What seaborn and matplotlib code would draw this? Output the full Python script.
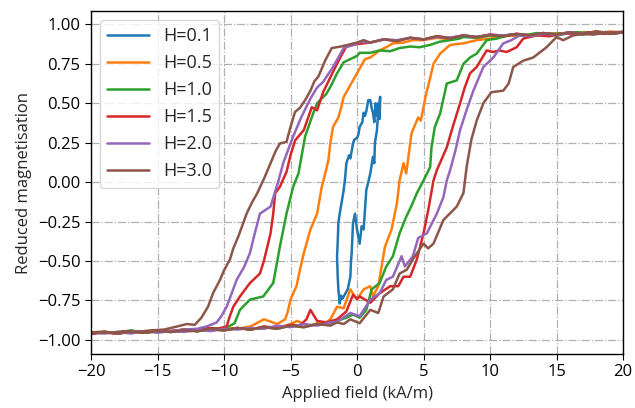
import numpy as np
import pandas as pd
import matplotlib
matplotlib.use("Agg")
import matplotlib.pyplot as plt
import seaborn as sns

labels = ["H=0.1", "H=0.5", "H=1.0", "H=1.5", "H=2.0", "H=3.0"]

# (field kA/m, reduced magnetisation)
loop_01 = [(1.73, .54), (1.65, .45), (1.6, .5), (1.5, .42), (1.4, .5), (1.3, .38), (1.2, .44), (1.1, .47),
           (1.0, .52), (0.85, .52), (0.7, .45), (0.6, .42), (0.5, .44), (0.4, .38), (0.2, .35), (0.1, .3),
           (0.0, .28), (-0.2, .27), (-0.3, .245), (-0.5, .15), (-0.6, .17), (-0.8, .12), (-0.9, .02),
           (-1.0, -.05), (-1.2, -.15), (-1.3, -.2), (-1.4, -.26), (-1.45, -.38), (-1.5, -.47),
           (-1.45, -.6), (-1.4, -.68), (-1.3, -.77), (-1.2, -.72), (-1.1, -.74), (-1.0, -.725),
           (-0.7, -.68), (-0.5, -.6), (-0.45, -.5), (-0.4, -.45), (-0.3, -.26), (-0.15, -.2), (0.0, -.3),
           (0.2, -.39), (0.35, -.28), (0.5, -.3), (0.7, -.05), (0.85, .0), (1.0, .055), (1.2, .16),
           (1.3, .12), (1.35, .25), (1.5, .33), (1.6, .455), (1.7, .4), (1.75, .54)]

down_05 = [(20, .95), (19, .945), (18, .955), (17, .94), (16, .95), (15, .935), (14, .945), (13, .93),
           (12, .935), (11, .925), (10, .93), (9, .915), (8, .925), (7, .905), (6, .915), (5, .9),
           (4.2, .9), (3.5, .885), (2.7, .88), (2.3, .86), (1.7, .835), (1.0, .79), (0.6, .78),
           (0.2, .72), (-0.3, .645), (-1.0, .54), (-1.2, .47), (-1.4, .41), (-1.8, .35), (-2.0, .25),
           (-2.15, .14), (-2.4, .05), (-2.65, -.03), (-3.0, -.2), (-3.5, -.3), (-4.0, -.45),
           (-4.3, -.56), (-4.55, -.66), (-5.0, -.745), (-5.2, -.82), (-5.4, -.87), (-6, -.9),
           (-7, -.87), (-8, -.915), (-9, -.93), (-10, -.925), (-11, -.935), (-12, -.94), (-13, -.935),
           (-14, -.945), (-15, -.94), (-16, -.95), (-17, -.945), (-18, -.955), (-19, -.95), (-20, -.955)]
up_05 = [(-20, -.955), (-19, -.95), (-18, -.96), (-17, -.945), (-16, -.955), (-15, -.94), (-14, -.95),
         (-13, -.935), (-12, -.945), (-11, -.93), (-10, -.94), (-9, -.925), (-8, -.935), (-7, -.92),
         (-6, -.925), (-5, -.9), (-4.5, -.88), (-4, -.9), (-3.5, -.91), (-3, -.895), (-2.5, -.9),
         (-2, -.87), (-1.5, -.79), (-1.0, -.8), (-0.5, -.68), (0, -.745), (0.5, -.68), (1.0, -.66),
         (1.2, -.725), (1.6, -.66), (1.85, -.535), (2.1, -.41), (2.6, -.30), (3.0, -.135), (3.2, .01),
         (3.5, .12), (3.7, .055), (4.1, .31), (4.6, .41), (4.8, .39), (5.2, .56), (5.5, .66),
         (5.75, .75), (6.25, .815), (7.0, .87), (8, .88), (9, .9), (10, .91), (11, .925), (12, .93),
         (13, .935), (14, .93), (15, .945), (16, .94), (17, .95), (18, .945), (19, .955), (20, .95)]

down_10 = [(20, .95), (19, .94), (18, .95), (17, .935), (16, .945), (15, .93), (14, .94), (13, .925),
           (12, .935), (11, .93), (10, .93), (9, .915), (8, .92), (7.7, .91), (7, .9), (6.2, .89),
           (5.5, .87), (4.7, .855), (4, .86), (3.2, .85), (2.5, .83), (1.7, .835), (1, .82), (0.2, .82),
           (0, .80), (-0.5, .78), (-1.0, .76), (-1.5, .69), (-1.9, .62), (-2.3, .56), (-3.0, .50),
           (-3.3, .435), (-3.9, .29), (-4.2, .15), (-4.4, .055), (-4.8, -.03), (-5.3, -.2),
           (-5.8, -.41), (-6.1, -.55), (-6.3, -.64), (-7.05, -.725), (-8.05, -.745), (-8.8, -.81),
           (-9.2, -.895), (-10, -.93), (-11, -.925), (-12, -.945), (-13, -.94), (-14, -.95),
           (-15, -.945), (-16, -.955), (-17, -.945), (-18, -.96), (-19, -.95), (-20, -.96)]
up_10 = [(-20, -.96), (-19, -.95), (-18, -.955), (-17, -.94), (-16, -.955), (-15, -.945), (-14, -.95),
         (-13, -.935), (-12, -.945), (-11, -.935), (-10, -.94), (-9, -.925), (-8, -.935), (-7, -.92),
         (-6, -.93), (-5, -.91), (-4, -.92), (-3, -.9), (-2, -.905), (-1.5, -.88), (-0.8, -.86),
         (-0.3, -.84), (0.2, -.86), (0.7, -.81), (1.1, -.68), (1.7, -.64), (2.2, -.535), (2.7, -.47),
         (3.2, -.325), (3.7, -.22), (4.1, -.15), (4.5, -.07), (5.0, .01), (5.5, .095), (5.6, .22),
         (5.85, .35), (6.25, .435), (6.75, .625), (7.5, .645), (8.0, .75), (8.5, .79), (9.0, .815),
         (9.4, .86), (9.75, .9), (10.5, .91), (11.5, .935), (12.5, .93), (13.5, .945), (15, .94),
         (16.5, .95), (18, .945), (19, .95), (20, .95)]

down_15 = [(20, .95), (19, .94), (18, .955), (17, .94), (16, .95), (15, .935), (14, .945), (13, .93),
           (12, .94), (11, .925), (10, .935), (9, .92), (8, .93), (7, .915), (6, .925), (5, .905),
           (4, .915), (3, .895), (2, .905), (1, .885), (0, .875), (-0.8, .86), (-1.2, .8), (-1.5, .75),
           (-1.8, .70), (-2.2, .63), (-2.55, .57), (-3.0, .455), (-3.4, .475), (-4.0, .33),
           (-4.65, .265), (-5.0, .17), (-5.3, .065), (-5.8, -.03), (-6.15, -.07), (-6.3, -.2),
           (-6.5, -.325), (-7.0, -.5), (-7.3, -.58), (-8.05, -.64), (-8.8, -.725), (-9.3, -.79),
           (-9.6, -.86), (-9.8, -.915), (-10.5, -.93), (-11.5, -.925), (-12.5, -.945), (-13.5, -.94),
           (-15, -.95), (-16.5, -.945), (-18, -.96), (-19, -.95), (-20, -.96)]
up_15 = [(-20, -.96), (-19, -.955), (-18, -.96), (-17, -.945), (-16, -.955), (-15, -.94), (-14, -.95),
         (-13, -.935), (-12, -.945), (-11, -.93), (-10, -.94), (-9, -.925), (-8, -.935), (-7, -.915),
         (-6, -.925), (-5, -.905), (-4.3, -.91), (-3.8, -.87), (-3.5, -.81), (-3.0, -.88),
         (-2.3, -.89), (-1.5, -.87), (-0.8, -.82), (-0.3, -.715), (0.0, -.74), (0.2, -.725),
         (1.0, -.765), (1.7, -.705), (2.5, -.66), (3.1, -.66), (3.5, -.6), (4.0, -.6), (4.5, -.49),
         (5.0, -.325), (5.35, -.18), (5.75, .01), (6.0, .075), (6.75, .22), (7.2, .35), (7.75, .5),
         (8.1, .6), (8.5, .69), (9.0, .73), (9.75, .835), (10.25, .825), (10.7, .835), (11.25, .825),
         (12.0, .855), (12.5, .91), (13.5, .93), (14.5, .925), (15.5, .945), (16.5, .935),
         (17.5, .95), (18.5, .94), (19.3, .95), (20, .95)]

down_20 = [(20, .95), (19, .945), (18, .95), (17, .94), (16, .95), (15, .935), (14, .945), (13, .93),
           (12, .94), (11, .93), (10, .935), (9, .92), (8, .93), (7, .915), (6, .92), (5, .905),
           (4, .915), (3, .9), (2, .905), (1, .885), (0.3, .89), (-0.3, .87), (-1.0, .85), (-1.4, .79),
           (-1.8, .73), (-2.2, .68), (-2.55, .635), (-3.0, .6), (-3.5, .53), (-4.2, .41), (-4.8, .29),
           (-5.2, .2), (-5.55, .12), (-5.9, .01), (-6.5, -.155), (-7.3, -.2), (-7.7, -.33),
           (-8.05, -.45), (-8.5, -.54), (-9.05, -.62), (-9.4, -.7), (-9.8, -.79), (-10.2, -.85),
           (-10.55, -.89), (-11.3, -.915), (-12, -.93), (-13, -.935), (-14, -.945), (-15, -.94),
           (-16, -.95), (-17, -.945), (-18, -.96), (-19, -.95), (-20, -.955)]
up_20 = [(-20, -.955), (-19, -.96), (-18, -.95), (-17, -.96), (-16, -.945), (-15, -.955), (-14, -.945),
         (-13, -.95), (-12, -.935), (-11, -.945), (-10, -.93), (-9, -.935), (-8, -.925), (-7, -.93),
         (-6, -.91), (-5, -.92), (-4, -.9), (-3, -.91), (-2, -.89), (-1.5, -.885), (-0.5, -.83),
         (0.2, -.85), (1.0, -.745), (1.7, -.705), (2.2, -.62), (2.7, -.6), (3.35, -.47), (3.6, -.535),
         (4.2, -.47), (4.6, -.355), (5.25, -.325), (6.0, -.2), (6.5, -.095), (6.75, .01), (7.0, .075),
         (7.4, .2), (7.75, .33), (8.25, .46), (8.75, .58), (9.5, .73), (10.25, .79), (11.0, .88),
         (11.6, .9), (12.25, .93), (13, .925), (14, .94), (15, .935), (16, .945), (17, .94),
         (18, .95), (19, .945), (20, .95)]

down_30 = [(20, .955), (19, .945), (18, .955), (17, .94), (16, .95), (15, .935), (14, .945), (13, .93),
           (12, .94), (11, .925), (10, .935), (9, .92), (8, .93), (7, .91), (6, .925), (5, .905),
           (4, .915), (3, .895), (2, .905), (1, .885), (0.5, .9), (0, .885), (-0.7, .87), (-1.2, .86),
           (-1.9, .85), (-2.4, .77), (-2.9, .67), (-3.2, .64), (-3.5, .58), (-3.9, .52), (-4.3, .47),
           (-4.66, .445), (-5.0, .35), (-5.3, .255), (-5.8, .245), (-6.1, .2), (-6.5, .12),
           (-7.0, .02), (-7.5, -.07), (-7.9, -.13), (-8.3, -.2), (-8.9, -.34), (-9.3, -.42),
           (-9.55, -.49), (-10.0, -.56), (-10.3, -.62), (-10.8, -.7), (-11.2, -.79), (-11.7, -.86),
           (-12.2, -.905), (-12.8, -.9), (-13.5, -.915), (-14.5, -.935), (-15.5, -.94), (-16.5, -.95),
           (-17.5, -.945), (-18.5, -.955), (-19.5, -.95), (-20, -.955)]
up_30 = [(-20, -.955), (-19, -.95), (-18, -.96), (-17, -.95), (-16, -.955), (-15, -.945), (-14, -.95),
         (-13, -.94), (-12, -.945), (-11, -.93), (-10, -.94), (-9, -.925), (-8, -.935), (-7, -.92),
         (-6, -.93), (-5, -.91), (-4, -.92), (-3, -.9), (-2, -.91), (-1.5, -.89), (-1, -.9),
         (-0.5, -.87), (0.2, -.895), (1.0, -.81), (1.6, -.83), (2.0, -.725), (2.7, -.68), (3.2, -.58),
         (3.75, -.555), (4.2, -.49), (5.0, -.39), (5.35, -.42), (5.75, -.39), (6.5, -.24),
         (7.5, -.155), (8.0, -.07), (8.25, .1), (8.6, .27), (9.0, .39), (9.5, .5), (10.1, .57),
         (11.0, .58), (11.4, .625), (11.75, .73), (12.5, .77), (13.25, .79), (14.25, .855),
         (15.0, .92), (15.5, .9), (16.25, .93), (17, .94), (17.75, .935), (18.5, .945), (19.3, .94),
         (20, .95)]

loops = [loop_01, down_05 + up_05, down_10 + up_10, down_15 + up_15, down_20 + up_20, down_30 + up_30]

frames = []
for lab, pts in zip(labels, loops):
    f, m = zip(*pts)
    frames.append(pd.DataFrame({"field": f, "mag": m, "H": lab}))
df = pd.concat(frames, ignore_index=True)

sns.set_style("ticks")
plt.rcParams["font.family"] = ["Open Sans", "DejaVu Sans"]

fig = plt.figure(figsize=(6.35, 4.08), dpi=100)
ax = fig.add_axes([91 / 635, 1 - 354 / 408, 532 / 635, 343 / 408])

sns.lineplot(data=df, x="field", y="mag", hue="H", hue_order=labels,
             palette=sns.color_palette("tab10", 6), sort=False, estimator=None,
             linewidth=1.8, ax=ax)

ax.set_xlim(-20, 20)
ax.set_ylim(-1.09, 1.085)
ax.set_xticks([-20, -15, -10, -5, 0, 5, 10, 15, 20])
yt = [-1.0, -0.75, -0.5, -0.25, 0.0, 0.25, 0.5, 0.75, 1.0]
ax.set_yticks(yt)
ax.set_yticklabels([f"{v:.2f}".replace("-", "\u2212") for v in yt])
ax.grid(True, linestyle="-.", color="#b0b0b0", linewidth=0.9)
ax.set_axisbelow(True)
for s in ax.spines.values():
    s.set_visible(True)
    s.set_color("black")
    s.set_linewidth(1.0)
ax.tick_params(labelsize=12, direction="out", length=4, colors="black")
ax.set_xlabel("Applied field (kA/m)", fontsize=12)
ax.set_ylabel("Reduced magnetisation", fontsize=12)

ax.legend(loc="upper left", fontsize=13, handlelength=2.3, framealpha=0.8,
          edgecolor="#cccccc", fancybox=True, title=None)

fig.savefig("out.png", dpi=100)
